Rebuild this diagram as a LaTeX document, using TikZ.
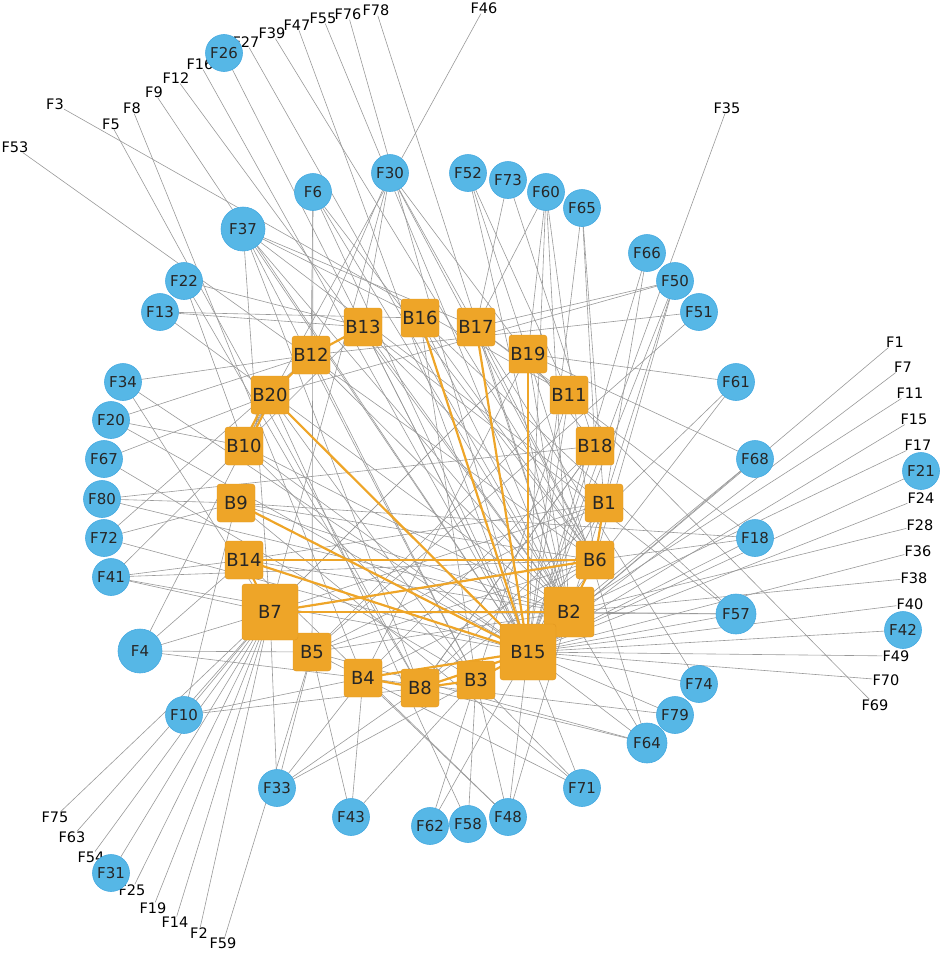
\documentclass[tikz,border=0pt]{standalone}
\usepackage{fontspec}
\setmainfont{DejaVu Sans}
\definecolor{fblue}{RGB}{86,183,230}
\definecolor{fblueb}{RGB}{70,170,225}
\definecolor{borg}{RGB}{238,165,40}
\definecolor{borgb}{RGB}{225,150,30}
\begin{document}
\begin{tikzpicture}[x=1pt,y=-1pt,
  fn/.style={circle,fill=fblue,draw=fblueb,line width=0.6pt,minimum size=37pt,inner sep=0pt,font=\fontsize{15}{15}\selectfont,text=black!85},
  fbig/.style={fn,minimum size=44pt},
  bn/.style={rectangle,rounded corners=3pt,fill=borg,draw=borgb,minimum size=38pt,inner sep=0pt,font=\fontsize{18}{18}\selectfont,text=black!85},
  bbig/.style={bn,minimum size=54pt},
  lab/.style={inner sep=0pt,font=\fontsize{14.5}{14.5}\selectfont},
  ge/.style={draw=gray!80,line width=0.6pt},
  oe/.style={draw=borg,line width=2.2pt}]
\useasboundingbox (0,0) rectangle (941,953);
\foreach \n/\x/\y in {F46/484/8,F78/376/10,F76/348/14,F55/323/18,F47/297/25,F39/272/33,F27/246/42,F16/200/64,F12/176/78,F9/154/92,F8/132/108,F5/111/124,F3/55/104,F53/15/147,F35/727/108,F1/895/342,F7/903/367,F11/910/393,F15/914/419,F17/918/445,F24/921/498,F28/920/525,F36/918/551,F38/914/578,F40/910/604,F49/896/656,F70/886/680,F69/875/705,F75/55/817,F63/72/837,F54/91/857,F25/132/890,F19/153/908,F14/175/922,F2/199/933,F59/223/943}
  \node[lab] (\n) at (\x,\y) {\n};
\foreach \n/\x/\y in {B13/363/327,B16/420/318,B17/476/327,B19/528/354,B11/569/395,B18/595/446,B1/604/503,B6/595/560,B3/476/680,B8/420/688,B4/363/678,B5/312/652,B14/244/560,B9/236/503,B10/244/446,B20/270/395,B12/311/355}
  \coordinate (\n) at (\x,\y);
\coordinate (B2) at (569,612); \coordinate (B15) at (528,652); \coordinate (B7) at (270,612);
\foreach \n/\x/\y in {F26/224/53,F30/390/173,F6/313/192,F37/243/229,F52/468/173,F73/508/180,F60/546/192,F65/582/208,F66/647/253,F50/675/281,F51/699/312,F61/736/382,F68/755/459,F21/921/471,F18/755/538,F57/736/614,F42/903/630,F74/699/684,F79/675/715,F64/647/743,F71/582/788,F48/508/817,F58/468/824,F62/430/826,F43/351/817,F33/277/788,F10/184/715,F31/111/873,F4/140/651,F41/111/577,F72/104/538,F80/102/499,F67/104/459,F20/111/420,F34/123/382,F13/160/312,F22/184/281}
  \coordinate (\n) at (\x,\y);
\begin{scope}[ge]
\foreach \a/\b in {F46/B10,F78/B2,F76/B15,F55/B2,F47/B15,F39/B6,F27/B2,F26/B15,F16/B15,F12/B2,F9/B15,F8/B4,F5/B8,F3/B11,F53/B6,F35/B15,
 F1/B15,F7/B15,F11/B2,F15/B15,F17/B2,F24/B15,F28/B2,F36/B15,F38/B2,F40/B15,F49/B15,F70/B15,F69/B11,
 F75/B7,F63/B7,F54/B7,F25/B7,F19/B7,F14/B7,F2/B7,F59/B5,
 F30/B12,F30/B17,F30/B18,F30/B6,F30/B13,F30/B7,F6/B12,F6/B15,F6/B2,F6/B6,F6/B5,F37/B16,F37/B17,F37/B1,F37/B15,F37/B2,F37/B8,F37/B3,F37/B7,
 F52/B19,F52/B2,F52/B11,F73/B17,F73/B18,F60/B17,F60/B19,F60/B15,F60/B2,F60/B6,F65/B18,F65/B15,F65/B1,
 F66/B6,F66/B15,F50/B17,F50/B20,F50/B6,F50/B2,F50/B15,F51/B12,F51/B5,F61/B19,F61/B15,F61/B8,F68/B19,F68/B2,F68/B15,F21/B15,F18/B9,F18/B15,F18/B6,F18/B17,
 F57/B16,F57/B13,F57/B15,F57/B2,F57/B7,F42/B15,F74/B17,F74/B15,F79/B15,F79/B4,F64/B2,F64/B15,F64/B19,F64/B8,F64/B5,F71/B15,F71/B5,F71/B9,F71/B3,
 F48/B15,F48/B3,F48/B2,F48/B4,F48/B14,F58/B3,F58/B20,F62/B3,F62/B15,F43/B5,F43/B3,F43/B4,F33/B5,F33/B8,F33/B4,F33/B7,F33/B15,F10/B4,F10/B8,F10/B9,F10/B7,F31/B7,
 F4/B14,F4/B7,F4/B5,F4/B4,F4/B20,F41/B14,F41/B7,F41/B6,F41/B15,F41/B13,F72/B9,F72/B15,F72/B12,F80/B9,F80/B2,F80/B18,F67/B20,F67/B3,F20/B12,F20/B15,F20/B10,F34/B12,F34/B7,F34/B15,F13/B13,F13/B16,F13/B2,F22/B13,F22/B10,F22/B8,
 B13/B2,B13/B6,B16/B2,B16/B6,B16/B3,B17/B2,B17/B6,B17/B11,B19/B2,B19/B7,B11/B15,B11/B5,B18/B15,B18/B8,B18/B4,B1/B14,B1/B15,B12/B2,B12/B3,B9/B2,B9/B6,B10/B15,B10/B2,B10/B3,B14/B2,B5/B6,B5/B2,B5/B1,B4/B6,B4/B19,B8/B6,B8/B18,B3/B11,B7/B1,B7/B19,B20/B3,B13/B15}
  \draw (\a) -- (\b);
\end{scope}
\begin{scope}[oe]
\foreach \a/\b in {B12/B13,B12/B20,B16/B15,B17/B15,B19/B15,B20/B15,B9/B15,B14/B6,B14/B15,B7/B6,B7/B2,B7/B14,B7/B5,B1/B6,B4/B8,B4/B15,B8/B3,B3/B15,B6/B2,B2/B15,B8/B15}
  \draw (\a) -- (\b);
\draw ([xshift=-2pt]B20) -- ([xshift=-2pt]B10);
\draw ([xshift=3pt]B20) -- ([xshift=3pt]B10);
\end{scope}
\foreach \n in {B13,B16,B17,B19,B11,B18,B1,B6,B3,B8,B4,B5,B14,B9,B10,B20,B12}
  \node[bn] at (\n) {\n};
\node[bbig,minimum size=56pt] at (B7) {B7};
\node[bbig,minimum size=50pt] at (B2) {B2};
\node[bbig,minimum size=56pt] at (B15) {B15};
\foreach \n in {F26,F30,F6,F52,F73,F60,F65,F66,F50,F51,F61,F68,F21,F18,F57,F42,F74,F79,F64,F71,F48,F58,F62,F43,F33,F10,F31,F41,F72,F80,F67,F20,F34,F13,F22}
  \node[fn] at (\n) {\n};
\node[fbig] at (F37) {F37};
\node[fbig] at (F4) {F4};
\node[fn,minimum size=40pt] at (F57) {F57};
\node[fn,minimum size=40pt] at (F64) {F64};
\end{tikzpicture}
\end{document}
